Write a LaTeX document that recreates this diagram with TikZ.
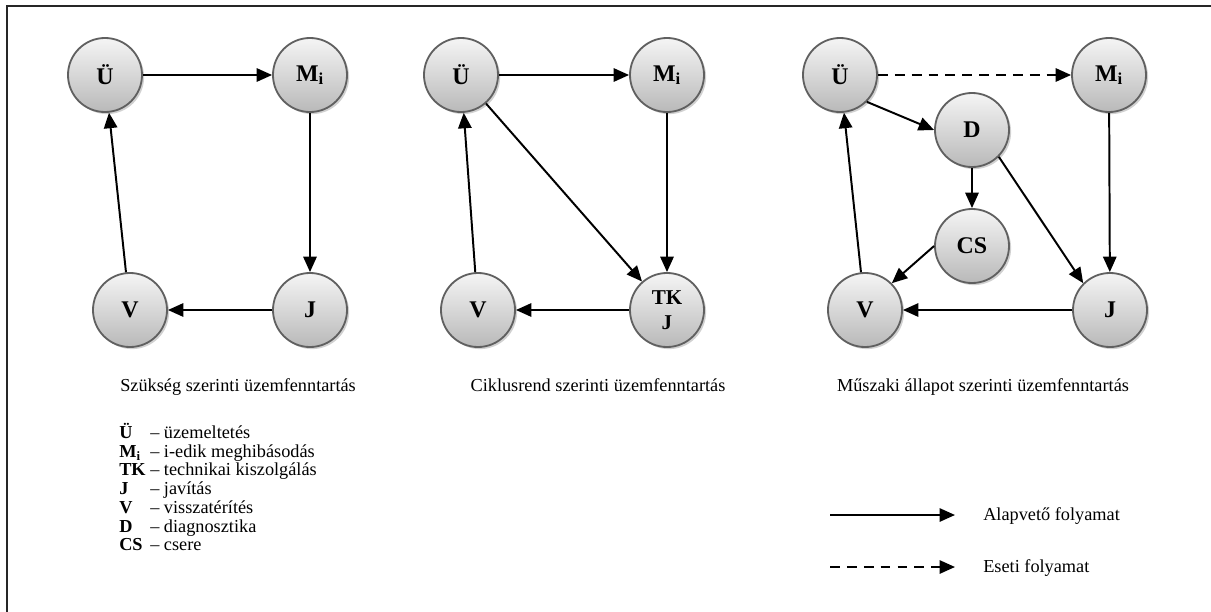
\documentclass[tikz,border=0pt]{standalone}
\usepackage{fontspec}
\setmainfont{Liberation Serif}
\usetikzlibrary{arrows.meta,shadows}

\tikzset{
  state/.style={circle,draw=gray!75!black,line width=1.3pt,minimum size=1.85cm,
    inner sep=0pt,top color=gray!8,bottom color=gray!55,
    drop shadow={shadow xshift=1.5pt,shadow yshift=-1.5pt,fill=gray!45,opacity=.8},
    font=\fontsize{17}{18}\selectfont\bfseries},
  flow/.style={line width=1.4pt,-{Triangle[length=11pt,width=9.5pt]}},
  maybe/.style={flow,dash pattern=on 7pt off 5pt},
  caption/.style={font=\fontsize{13}{14}\selectfont,inner sep=0pt},
}

\begin{document}
\begin{tikzpicture}[x=0.025cm,y=-0.025cm]
  \useasboundingbox (0,0) rectangle (1211,612);
  \draw[line width=1.5pt,black!85] (7,612) -- (7,6) -- (1211,6);

  % szukseg szerinti
  \draw
    (105,75) node[state] (u1){Ü}
    (310,75) node[state] (m1){M\textsubscript{i}}
    (310,310) node[state] (j1){J}
    (130,310) node[state] (v1){V};
  % ciklusrend szerinti
  \draw
    (461,75) node[state] (u2){Ü}
    (667,75) node[state] (m2){M\textsubscript{i}}
    (667,310) node[state,align=center,font=\fontsize{15}{18}\selectfont\bfseries] (t2){TK\\J}
    (478,310) node[state] (v2){V};
  % muszaki allapot szerinti
  \draw
    (840,75) node[state] (u3){Ü}
    (1109,75) node[state] (m3){M\textsubscript{i}}
    (972,130) node[state] (d3){D}
    (972,246) node[state] (c3){CS}
    (1110,310) node[state] (j3){J}
    (865,310) node[state] (v3){V};

  \begin{scope}[flow]
    \draw (u1) to (m1);
    \draw (m1) to (j1);
    \draw (j1) to (v1);
    \draw (v1) to (u1);
    \draw (u2) to (m2);
    \draw (m2) to (t2);
    \draw (u2) to (t2);
    \draw (t2) to (v2);
    \draw (v2) to (u2);
    \draw[maybe] (u3) to (m3);
    \draw (u3.south east) to (d3.west);
    \draw (d3) to (c3);
    \draw (d3.south east) to (j3.north west);
    \draw (c3.west) to (v3.north east);
    \draw (m3) to (j3);
    \draw (j3) to (v3);
    \draw (v3) to (u3);
  \end{scope}

  \node[caption,anchor=base west] (c1) at (120,391) {Szükség szerinti üzemfenntartás};
  \node[caption,anchor=base] (c2) at (598,391) {Ciklusrend szerinti üzemfenntartás};
  \node[caption,anchor=base] (c3) at (983,391) {Műszaki állapot szerinti üzemfenntartás};

  \node[caption,anchor=north west] (key) at (119,423) {%
    \fontsize{13}{13.3}\selectfont
    \begin{tabular}{@{}l@{ }l@{}}
      \textbf{Ü}  & – üzemeltetés\\
      \textbf{M\textsubscript{i}} & – i-edik meghibásodás\\
      \textbf{TK} & – technikai kiszolgálás\\
      \textbf{J}  & – javítás\\
      \textbf{V}  & – visszatérítés\\
      \textbf{D}  & – diagnosztika\\
      \textbf{CS} & – csere
    \end{tabular}};

  \coordinate (a1) at (830,515);
  \coordinate (a2) at (955,515);
  \coordinate (b1) at (830,567);
  \coordinate (b2) at (955,567);
  \draw[flow] (a1) -- (a2);
  \draw[maybe] (b1) -- (b2);
  \node[caption,anchor=west] (ta) at (983,516) {Alapvető folyamat};
  \node[caption,anchor=west] (tb) at (983,568) {Eseti folyamat};
\end{tikzpicture}
\end{document}
